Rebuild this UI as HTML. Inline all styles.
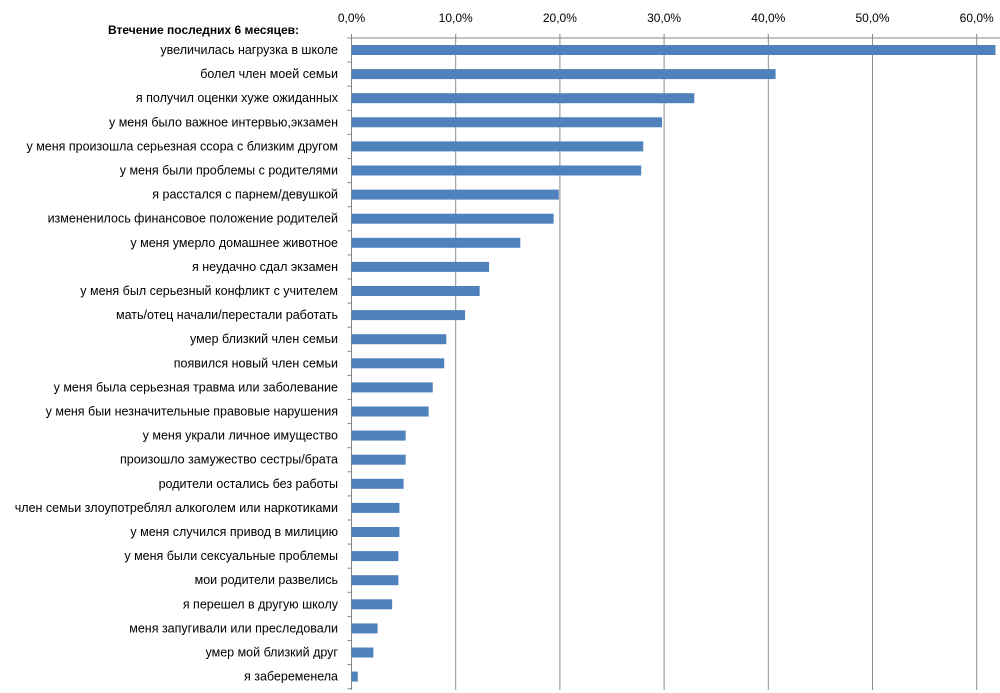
<!DOCTYPE html>
<html><head><meta charset="utf-8">
<style>
html,body{margin:0;padding:0;background:#fff;}
svg{display:block;font-family:"Liberation Sans","DejaVu Sans",sans-serif;}
</style></head>
<body>
<svg id="chart" width="1000" height="693" viewBox="0 0 1000 693" xmlns="http://www.w3.org/2000/svg">
<text x="108" y="34" font-size="12" font-weight="bold" fill="#000">Втечение последних 6 месяцев:</text>
<g id="grid"></g>
<g id="bars"></g>
<g id="labels"></g>
<g id="ticks"></g>
</svg>
<script>
const categories = [
"увеличилась нагрузка в школе","болел член моей семьи","я получил оценки хуже ожиданных",
"у меня было важное интервью,экзамен","у меня произошла серьезная ссора с близким другом",
"у меня были проблемы с родителями","я расстался с парнем/девушкой",
"измененилось финансовое положение родителей","у меня умерло домашнее животное",
"я неудачно сдал экзамен","у меня был серьезный конфликт с учителем",
"мать/отец начали/перестали работать","умер близкий член семьи","появился новый член семьи",
"у меня была серьезная травма или заболевание","у меня быи незначительные правовые нарушения",
"у меня украли личное имущество","произошло замужество сестры/брата",
"родители остались без работы","член семьи злоупотреблял алкоголем или наркотиками",
"у меня случился привод в милицию","у меня были сексуальные проблемы",
"мои родители развелись","я перешел в другую школу","меня запугивали или преследовали",
"умер мой близкий друг","я забеременела"];
const values = [61.8,40.7,32.9,29.8,28.0,27.8,19.9,19.4,16.2,13.2,12.3,10.9,9.1,8.9,7.8,7.4,5.2,5.2,5.0,4.6,4.6,4.5,4.5,3.9,2.5,2.1,0.6];
const tickValues = [0,10,20,30,40,50,60];
const tickLabels = ["0,0%","10,0%","20,0%","30,0%","40,0%","50,0%","60,0%"];

const NS="http://www.w3.org/2000/svg";
const x0=351.5, pxPer=10.42, yTop=38, rowH=24.1, first=50;
const xs=v=>x0+v*pxPer;
const ys=i=>first+i*rowH;
function mk(tag,attrs,parent){const e=document.createElementNS(NS,tag);for(const k in attrs)e.setAttribute(k,attrs[k]);document.getElementById(parent).appendChild(e);return e;}

tickValues.forEach((t,i)=>{
  const g=mk("line",{x1:xs(t),x2:xs(t),y1:yTop,y2:690,stroke:t===0?"#868686":"#8c8c8c","stroke-width":1},"grid");
  
  
  const tl=mk("text",{x:xs(t),y:22,"font-size":12,"text-anchor":"middle",fill:"#000"},"ticks");
  tl.textContent=tickLabels[i];
  
  
  const tk=mk("line",{x1:xs(t),x2:xs(t),y1:yTop-4,y2:yTop,stroke:"#868686"},"ticks");
  
  
});
const ax=mk("line",{x1:x0,x2:1000,y1:yTop,y2:yTop,stroke:"#868686"},"grid");


for(let i=0;i<=categories.length;i++){
  const t=mk("line",{x1:x0-4,x2:x0,y1:yTop+i*rowH,y2:yTop+i*rowH,stroke:"#868686"},"grid");
  
  
}
categories.forEach((c,i)=>{
  const r=mk("rect",{x:x0,y:ys(i)-5,width:xs(values[i])-x0,height:10,fill:"#4f81bd"},"bars");
  
  
  const l=mk("text",{x:338,y:ys(i)+4,"font-size":12.5,"text-anchor":"end",fill:"#000"},"labels");
  l.textContent=c;
  
  
});
</script>
</body></html>
